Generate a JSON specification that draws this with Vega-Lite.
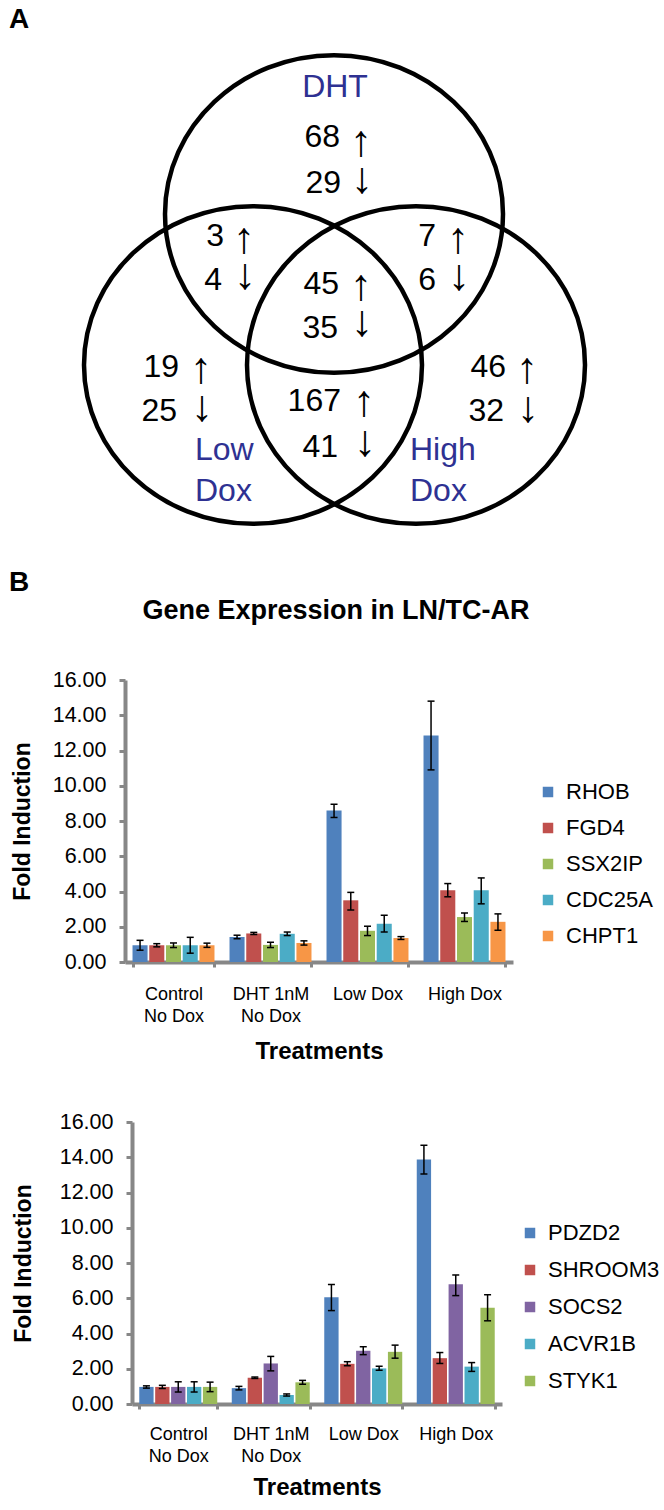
{
  "$schema": "https://vega.github.io/schema/vega-lite/v6.json",
  "padding": 0,
  "background": "white",
  "bounds": "flush",
  "spacing": 160,
  "resolve": {
    "scale": {"x": "independent", "y": "independent", "xOffset": "independent", "color": "independent"},
    "axis": {"x": "independent", "y": "independent"},
    "legend": {"color": "independent"}
  },
  "config": {
    "view": {"stroke": null},
    "font": "Liberation Sans",
    "axis": {"labelFont": "Liberation Sans", "titleFont": "Liberation Sans", "labelColor": "black", "titleColor": "black", "grid": false},
    "axisY": {"labelOverlap": false},
    "legend": {"labelFont": "Liberation Sans", "labelColor": "black"}
  },
  "datasets": {
    "circles": [
      {"set": "DHT", "x": 334, "y": 214},
      {"set": "Low Dox", "x": 253, "y": 365},
      {"set": "High Dox", "x": 416, "y": 365}
    ],
    "venntext": [
      {"kind": "pin", "x": 0, "y": 0, "text": " "},
      {"kind": "panel", "x": 19, "y": 20, "text": "A"},
      {"kind": "panel", "x": 19, "y": 583, "text": "B"},
      {"kind": "setc", "x": 335, "y": 87, "text": "DHT"},
      {"kind": "setl", "x": 195, "y": 450, "text": "Low"},
      {"kind": "setl", "x": 195, "y": 491, "text": "Dox"},
      {"kind": "setl", "x": 410, "y": 450, "text": "High"},
      {"kind": "setl", "x": 410, "y": 491, "text": "Dox"},
      {"kind": "num", "x": 340, "y": 137, "text": "68"},
      {"kind": "num", "x": 341, "y": 183, "text": "29"},
      {"kind": "num", "x": 224, "y": 236, "text": "3"},
      {"kind": "num", "x": 222, "y": 280, "text": "4"},
      {"kind": "num", "x": 436, "y": 236, "text": "7"},
      {"kind": "num", "x": 436, "y": 280, "text": "6"},
      {"kind": "num", "x": 339, "y": 284, "text": "45"},
      {"kind": "num", "x": 338, "y": 328, "text": "35"},
      {"kind": "num", "x": 179, "y": 367, "text": "19"},
      {"kind": "num", "x": 177, "y": 411, "text": "25"},
      {"kind": "num", "x": 341, "y": 401, "text": "167"},
      {"kind": "num", "x": 338, "y": 447, "text": "41"},
      {"kind": "num", "x": 506, "y": 367, "text": "46"},
      {"kind": "num", "x": 504, "y": 411, "text": "32"},
      {"kind": "arrow", "x": 361, "y": 143, "text": "↑"},
      {"kind": "arrow", "x": 362, "y": 180, "text": "↓"},
      {"kind": "arrow", "x": 244, "y": 240, "text": "↑"},
      {"kind": "arrow", "x": 245, "y": 276, "text": "↓"},
      {"kind": "arrow", "x": 458, "y": 240, "text": "↑"},
      {"kind": "arrow", "x": 459, "y": 277, "text": "↓"},
      {"kind": "arrow", "x": 361, "y": 287, "text": "↑"},
      {"kind": "arrow", "x": 362, "y": 323, "text": "↓"},
      {"kind": "arrow", "x": 201, "y": 370, "text": "↑"},
      {"kind": "arrow", "x": 202, "y": 408, "text": "↓"},
      {"kind": "arrow", "x": 364, "y": 403, "text": "↑"},
      {"kind": "arrow", "x": 365, "y": 443, "text": "↓"},
      {"kind": "arrow", "x": 527, "y": 370, "text": "↑"},
      {"kind": "arrow", "x": 528, "y": 409, "text": "↓"}
    ],
    "top": [
      {"treatment": "Control|No Dox", "gene": "RHOB", "value": 0.95, "lo": 0.67, "hi": 1.23},
      {"treatment": "Control|No Dox", "gene": "FGD4", "value": 0.95, "lo": 0.86, "hi": 1.04},
      {"treatment": "Control|No Dox", "gene": "SSX2IP", "value": 0.95, "lo": 0.82, "hi": 1.08},
      {"treatment": "Control|No Dox", "gene": "CDC25A", "value": 0.95, "lo": 0.5, "hi": 1.4},
      {"treatment": "Control|No Dox", "gene": "CHPT1", "value": 0.95, "lo": 0.83, "hi": 1.07},
      {"treatment": "DHT 1nM|No Dox", "gene": "RHOB", "value": 1.42, "lo": 1.32, "hi": 1.52},
      {"treatment": "DHT 1nM|No Dox", "gene": "FGD4", "value": 1.62, "lo": 1.56, "hi": 1.68},
      {"treatment": "DHT 1nM|No Dox", "gene": "SSX2IP", "value": 0.97, "lo": 0.82, "hi": 1.12},
      {"treatment": "DHT 1nM|No Dox", "gene": "CDC25A", "value": 1.6, "lo": 1.5, "hi": 1.7},
      {"treatment": "DHT 1nM|No Dox", "gene": "CHPT1", "value": 1.08, "lo": 0.96, "hi": 1.2},
      {"treatment": "Low Dox", "gene": "RHOB", "value": 8.6, "lo": 8.2, "hi": 8.95},
      {"treatment": "Low Dox", "gene": "FGD4", "value": 3.5, "lo": 2.95, "hi": 3.95},
      {"treatment": "Low Dox", "gene": "SSX2IP", "value": 1.77, "lo": 1.5, "hi": 2.03},
      {"treatment": "Low Dox", "gene": "CDC25A", "value": 2.17, "lo": 1.7, "hi": 2.65},
      {"treatment": "Low Dox", "gene": "CHPT1", "value": 1.36, "lo": 1.28, "hi": 1.44},
      {"treatment": "High Dox", "gene": "RHOB", "value": 12.85, "lo": 10.9, "hi": 14.8},
      {"treatment": "High Dox", "gene": "FGD4", "value": 4.07, "lo": 3.7, "hi": 4.45},
      {"treatment": "High Dox", "gene": "SSX2IP", "value": 2.55, "lo": 2.3, "hi": 2.78},
      {"treatment": "High Dox", "gene": "CDC25A", "value": 4.07, "lo": 3.3, "hi": 4.77},
      {"treatment": "High Dox", "gene": "CHPT1", "value": 2.28, "lo": 1.8, "hi": 2.73}
    ],
    "bottom": [
      {"treatment": "Control|No Dox", "gene": "PDZD2", "value": 0.97, "lo": 0.9, "hi": 1.03},
      {"treatment": "Control|No Dox", "gene": "SHROOM3", "value": 0.97, "lo": 0.88, "hi": 1.06},
      {"treatment": "Control|No Dox", "gene": "SOCS2", "value": 0.97, "lo": 0.68, "hi": 1.26},
      {"treatment": "Control|No Dox", "gene": "ACVR1B", "value": 0.97, "lo": 0.68, "hi": 1.26},
      {"treatment": "Control|No Dox", "gene": "STYK1", "value": 0.97, "lo": 0.7, "hi": 1.24},
      {"treatment": "DHT 1nM|No Dox", "gene": "PDZD2", "value": 0.9, "lo": 0.8, "hi": 1.0},
      {"treatment": "DHT 1nM|No Dox", "gene": "SHROOM3", "value": 1.49, "lo": 1.45, "hi": 1.53},
      {"treatment": "DHT 1nM|No Dox", "gene": "SOCS2", "value": 2.3, "lo": 1.88, "hi": 2.7},
      {"treatment": "DHT 1nM|No Dox", "gene": "ACVR1B", "value": 0.51, "lo": 0.45, "hi": 0.57},
      {"treatment": "DHT 1nM|No Dox", "gene": "STYK1", "value": 1.23, "lo": 1.12, "hi": 1.34},
      {"treatment": "Low Dox", "gene": "PDZD2", "value": 6.05, "lo": 5.3, "hi": 6.78},
      {"treatment": "Low Dox", "gene": "SHROOM3", "value": 2.28, "lo": 2.17, "hi": 2.4},
      {"treatment": "Low Dox", "gene": "SOCS2", "value": 3.02, "lo": 2.8, "hi": 3.25},
      {"treatment": "Low Dox", "gene": "ACVR1B", "value": 2.02, "lo": 1.92, "hi": 2.14},
      {"treatment": "Low Dox", "gene": "STYK1", "value": 2.96, "lo": 2.6, "hi": 3.34},
      {"treatment": "High Dox", "gene": "PDZD2", "value": 13.87, "lo": 13.05, "hi": 14.68},
      {"treatment": "High Dox", "gene": "SHROOM3", "value": 2.6, "lo": 2.3, "hi": 2.92},
      {"treatment": "High Dox", "gene": "SOCS2", "value": 6.8, "lo": 6.15, "hi": 7.32},
      {"treatment": "High Dox", "gene": "ACVR1B", "value": 2.12, "lo": 1.85, "hi": 2.35},
      {"treatment": "High Dox", "gene": "STYK1", "value": 5.46, "lo": 4.72, "hi": 6.2}
    ]
  },
  "vconcat": [
    {
      "width": 539,
      "height": 520,
      "layer": [
        {
          "data": {"name": "circles"},
          "mark": {"type": "point", "shape": "M-1,0A1,0.94,0,1,1,1,0A1,0.94,0,1,1,-1,0Z", "size": 114244, "filled": false, "stroke": "black", "strokeWidth": 4.5, "opacity": 1},
          "encoding": {
            "x": {"field": "x", "type": "quantitative", "scale": {"domain": [125, 664], "nice": false, "zero": false}, "axis": null},
            "y": {"field": "y", "type": "quantitative", "scale": {"domain": [0, 520], "reverse": true, "nice": false, "zero": false}, "axis": null}
          }
        },
        {
          "data": {"name": "venntext"},
          "transform": [{"filter": "datum.kind === 'pin'"}],
          "mark": {"type": "text", "align": "left", "baseline": "top", "fontSize": 10},
          "encoding": {
            "x": {"field": "x", "type": "quantitative", "axis": null},
            "y": {"field": "y", "type": "quantitative", "axis": null},
            "text": {"field": "text"}
          }
        },
        {
          "data": {"name": "venntext"},
          "transform": [{"filter": "datum.kind === 'panel'"}],
          "mark": {"type": "text", "align": "center", "baseline": "middle", "fontSize": 28, "fontWeight": "bold", "color": "black"},
          "encoding": {
            "x": {"field": "x", "type": "quantitative", "axis": null},
            "y": {"field": "y", "type": "quantitative", "axis": null},
            "text": {"field": "text"}
          }
        },
        {
          "data": {"name": "venntext"},
          "transform": [{"filter": "datum.kind === 'setc'"}],
          "mark": {"type": "text", "align": "center", "baseline": "middle", "fontSize": 32, "color": "#2E3192"},
          "encoding": {
            "x": {"field": "x", "type": "quantitative", "axis": null},
            "y": {"field": "y", "type": "quantitative", "axis": null},
            "text": {"field": "text"}
          }
        },
        {
          "data": {"name": "venntext"},
          "transform": [{"filter": "datum.kind === 'setl'"}],
          "mark": {"type": "text", "align": "left", "baseline": "middle", "fontSize": 32, "color": "#2E3192"},
          "encoding": {
            "x": {"field": "x", "type": "quantitative", "axis": null},
            "y": {"field": "y", "type": "quantitative", "axis": null},
            "text": {"field": "text"}
          }
        },
        {
          "data": {"name": "venntext"},
          "transform": [{"filter": "datum.kind === 'num'"}],
          "mark": {"type": "text", "align": "right", "baseline": "middle", "fontSize": 32, "color": "black"},
          "encoding": {
            "x": {"field": "x", "type": "quantitative", "axis": null},
            "y": {"field": "y", "type": "quantitative", "axis": null},
            "text": {"field": "text"}
          }
        },
        {
          "data": {"name": "venntext"},
          "transform": [{"filter": "datum.kind === 'arrow'"}],
          "mark": {"type": "text", "align": "center", "baseline": "middle", "fontSize": 44, "color": "black"},
          "encoding": {
            "x": {"field": "x", "type": "quantitative", "axis": null},
            "y": {"field": "y", "type": "quantitative", "axis": null},
            "text": {"field": "text"}
          }
        }
      ]
    },
    {
      "data": {"name": "top"},
      "width": 388,
      "height": 282,
      "title": {"text": "Gene Expression in LN/TC-AR", "fontSize": 27, "fontWeight": "bold", "color": "black", "font": "Liberation Sans", "anchor": "middle", "frame": "group", "dx": 17, "baseline": "middle", "offset": 31},
      "encoding": {
        "x": {
          "field": "treatment", "type": "nominal",
          "sort": ["Control|No Dox", "DHT 1nM|No Dox", "Low Dox", "High Dox"],
          "scale": {"paddingInner": 0.155, "paddingOuter": 0.0775},
          "axis": {"title": "Treatments", "labelExpr": "split(datum.label, '|')", "labelAngle": 0, "tickBand": "extent", "domainColor": "#878787", "domainWidth": 4, "tickColor": "#878787", "tickWidth": 3, "tickSize": 5, "labelFontSize": 18, "labelPadding": 18, "labelLineHeight": 22, "labelOverlap": false, "titleFontSize": 24, "titleFontWeight": "bold", "titleY": 89, "titleBaseline": "middle"}
        },
        "xOffset": {"field": "gene", "type": "nominal", "sort": ["RHOB", "FGD4", "SSX2IP", "CDC25A", "CHPT1"], "scale": {"paddingInner": 0.1}}
      },
      "layer": [
        {
          "mark": {"type": "bar"},
          "encoding": {
            "y": {"field": "value", "type": "quantitative", "scale": {"domain": [0, 16], "nice": false},
              "axis": {"title": "Fold Induction", "values": [0, 2, 4, 6, 8, 10, 12, 14, 16], "format": ".2f", "labelOverlap": false, "domainColor": "#878787", "domainWidth": 4, "tickColor": "#878787", "tickWidth": 3, "tickSize": 6, "labelFontSize": 21.5, "labelPadding": 13, "titleFontSize": 23, "titleFontWeight": "bold", "titleX": -103, "titleY": 141, "titleBaseline": "middle"}},
            "color": {"field": "gene", "type": "nominal",
              "scale": {"domain": ["RHOB", "FGD4", "SSX2IP", "CDC25A", "CHPT1"], "range": ["#4F81BD", "#C0504D", "#9BBB59", "#4BACC6", "#F79646"]},
              "legend": {"title": null, "orient": "none", "legendX": 412, "legendY": 101, "labelFontSize": 22, "symbolType": "square", "symbolSize": 110, "rowPadding": 14, "labelOffset": 7, "symbolStrokeWidth": 0, "padding": 0}}
          }
        },
        {
          "mark": {"type": "rule", "color": "black", "strokeWidth": 1.5},
          "encoding": {"y": {"field": "lo", "type": "quantitative",
              "axis": {"title": "Fold Induction", "values": [0, 2, 4, 6, 8, 10, 12, 14, 16], "format": ".2f", "labelOverlap": false, "domainColor": "#878787", "domainWidth": 4, "tickColor": "#878787", "tickWidth": 3, "tickSize": 6, "labelFontSize": 21.5, "labelPadding": 13, "titleFontSize": 23, "titleFontWeight": "bold", "titleX": -103, "titleY": 141, "titleBaseline": "middle"}}, "y2": {"field": "hi"}}
        },
        {
          "mark": {"type": "tick", "color": "black", "thickness": 1.5, "size": 7, "opacity": 1},
          "encoding": {"y": {"field": "lo", "type": "quantitative",
              "axis": {"title": "Fold Induction", "values": [0, 2, 4, 6, 8, 10, 12, 14, 16], "format": ".2f", "labelOverlap": false, "domainColor": "#878787", "domainWidth": 4, "tickColor": "#878787", "tickWidth": 3, "tickSize": 6, "labelFontSize": 21.5, "labelPadding": 13, "titleFontSize": 23, "titleFontWeight": "bold", "titleX": -103, "titleY": 141, "titleBaseline": "middle"}}}
        },
        {
          "mark": {"type": "tick", "color": "black", "thickness": 1.5, "size": 7, "opacity": 1},
          "encoding": {"y": {"field": "hi", "type": "quantitative",
              "axis": {"title": "Fold Induction", "values": [0, 2, 4, 6, 8, 10, 12, 14, 16], "format": ".2f", "labelOverlap": false, "domainColor": "#878787", "domainWidth": 4, "tickColor": "#878787", "tickWidth": 3, "tickSize": 6, "labelFontSize": 21.5, "labelPadding": 13, "titleFontSize": 23, "titleFontWeight": "bold", "titleX": -103, "titleY": 141, "titleBaseline": "middle"}}}
        }
      ]
    },
    {
      "data": {"name": "bottom"},
      "width": 377,
      "height": 282,
      "encoding": {
        "x": {
          "field": "treatment", "type": "nominal",
          "sort": ["Control|No Dox", "DHT 1nM|No Dox", "Low Dox", "High Dox"],
          "scale": {"paddingInner": 0.157, "paddingOuter": 0.0785, "range": [7, 377]},
          "axis": {"title": "Treatments", "labelExpr": "split(datum.label, '|')", "labelAngle": 0, "tickBand": "extent", "domainColor": "#878787", "domainWidth": 4, "tickColor": "#878787", "tickWidth": 3, "tickSize": 5, "labelFontSize": 18, "labelPadding": 16, "labelLineHeight": 22, "labelOverlap": false, "titleFontSize": 24, "titleFontWeight": "bold", "titleY": 83, "titleBaseline": "middle"}
        },
        "xOffset": {"field": "gene", "type": "nominal", "sort": ["PDZD2", "SHROOM3", "SOCS2", "ACVR1B", "STYK1"], "scale": {"paddingInner": 0.1}}
      },
      "layer": [
        {
          "mark": {"type": "bar"},
          "encoding": {
            "y": {"field": "value", "type": "quantitative", "scale": {"domain": [0, 16], "nice": false},
              "axis": {"title": "Fold Induction", "offset": -7, "values": [0, 2, 4, 6, 8, 10, 12, 14, 16], "format": ".2f", "labelOverlap": false, "domainColor": "#878787", "domainWidth": 4, "tickColor": "#878787", "tickWidth": 3, "tickSize": 6, "labelFontSize": 21.5, "labelPadding": 13, "titleFontSize": 23, "titleFontWeight": "bold", "titleX": -109, "titleY": 141, "titleBaseline": "middle"}},
            "color": {"field": "gene", "type": "nominal",
              "scale": {"domain": ["PDZD2", "SHROOM3", "SOCS2", "ACVR1B", "STYK1"], "range": ["#4F81BD", "#C0504D", "#8064A2", "#4BACC6", "#9BBB59"]},
              "legend": {"title": null, "orient": "none", "legendX": 394, "legendY": 100, "labelFontSize": 22, "symbolType": "square", "symbolSize": 110, "rowPadding": 15, "labelOffset": 7, "symbolStrokeWidth": 0, "padding": 0}}
          }
        },
        {
          "mark": {"type": "rule", "color": "black", "strokeWidth": 1.5},
          "encoding": {"y": {"field": "lo", "type": "quantitative",
              "axis": {"title": "Fold Induction", "offset": -7, "values": [0, 2, 4, 6, 8, 10, 12, 14, 16], "format": ".2f", "labelOverlap": false, "domainColor": "#878787", "domainWidth": 4, "tickColor": "#878787", "tickWidth": 3, "tickSize": 6, "labelFontSize": 21.5, "labelPadding": 13, "titleFontSize": 23, "titleFontWeight": "bold", "titleX": -109, "titleY": 141, "titleBaseline": "middle"}}, "y2": {"field": "hi"}}
        },
        {
          "mark": {"type": "tick", "color": "black", "thickness": 1.5, "size": 7, "opacity": 1},
          "encoding": {"y": {"field": "lo", "type": "quantitative",
              "axis": {"title": "Fold Induction", "offset": -7, "values": [0, 2, 4, 6, 8, 10, 12, 14, 16], "format": ".2f", "labelOverlap": false, "domainColor": "#878787", "domainWidth": 4, "tickColor": "#878787", "tickWidth": 3, "tickSize": 6, "labelFontSize": 21.5, "labelPadding": 13, "titleFontSize": 23, "titleFontWeight": "bold", "titleX": -109, "titleY": 141, "titleBaseline": "middle"}}}
        },
        {
          "mark": {"type": "tick", "color": "black", "thickness": 1.5, "size": 7, "opacity": 1},
          "encoding": {"y": {"field": "hi", "type": "quantitative",
              "axis": {"title": "Fold Induction", "offset": -7, "values": [0, 2, 4, 6, 8, 10, 12, 14, 16], "format": ".2f", "labelOverlap": false, "domainColor": "#878787", "domainWidth": 4, "tickColor": "#878787", "tickWidth": 3, "tickSize": 6, "labelFontSize": 21.5, "labelPadding": 13, "titleFontSize": 23, "titleFontWeight": "bold", "titleX": -109, "titleY": 141, "titleBaseline": "middle"}}}
        }
      ]
    }
  ]
}
